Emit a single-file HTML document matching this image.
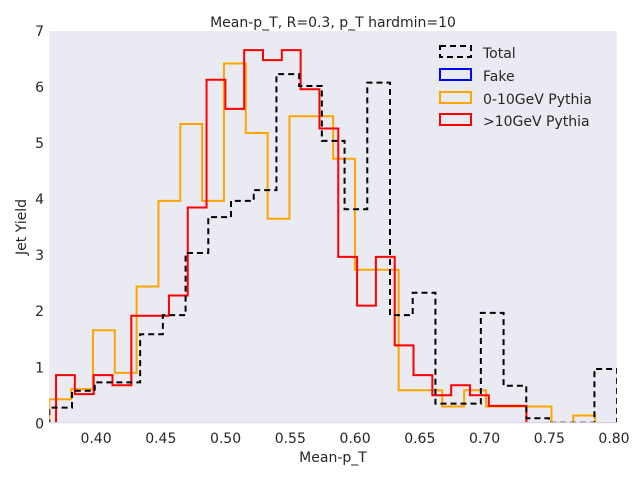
<!DOCTYPE html>
<html><head><meta charset="utf-8"><style>
body{margin:0;background:#fff;}
svg text{font-family:"DejaVu Sans","Liberation Sans",sans-serif;fill:#262626;}
</style></head><body>
<svg id="chart" width="640" height="480" viewBox="0 0 640 480">
<defs><clipPath id="clip"><rect x="49.3" y="31" width="567.7" height="391.1"/></clipPath></defs>
<rect x="49.3" y="31" width="567.7" height="392.3" fill="#eaeaf2"/>
<text x="333" y="27" font-size="14" text-anchor="middle">Mean-p_T, R=0.3, p_T hardmin=10</text>
<g id="xticks"></g><g id="yticks"></g>
<text x="333" y="462" font-size="14" text-anchor="middle">Mean-p_T</text>
<text x="26" y="227" font-size="14" text-anchor="middle" transform="rotate(-90 26 227)">Jet Yield</text>
<g id="series" clip-path="url(#clip)"></g>
<g>
<g><rect x="440" y="46" width="31" height="11" fill="none" stroke="#000" stroke-width="2" stroke-dasharray="6,4"/><text x="483" y="58" font-size="14">Total</text></g>
<g><rect x="440" y="69" width="31" height="11" fill="none" stroke="#0000ff" stroke-width="2"/><text x="483" y="81" font-size="14">Fake</text></g>
<g><rect x="440" y="92" width="31" height="11" fill="none" stroke="#ffa500" stroke-width="2"/><text x="483" y="104" font-size="14">0-10GeV Pythia</text></g>
<g><rect x="440" y="114" width="31" height="11" fill="none" stroke="#ff0000" stroke-width="2"/><text x="483" y="126" font-size="14">&gt;10GeV Pythia</text></g>
</g>
</svg>
<script>
const xTicks = [0.40,0.45,0.50,0.55,0.60,0.65,0.70,0.75,0.80];
const yTicks = [0,1,2,3,4,5,6,7];
const totalStart = 0.3639, totalWidth = 0.01754;
const totalValues = [0.28,0.58,0.73,0.73,1.59,1.93,3.04,3.68,3.97,4.16,6.23,6.02,5.04,3.82,6.08,1.93,2.33,0.35,0.35,1.97,0.67,0.09,0.01,0.01,0.97];
const fakeStart = 0.3639, fakeWidth = 0.01754;
const fakeValues = [0,0,0,0,0,0,0,0,0,0,0,0,0,0,0,0,0,0,0,0,0,0,0,0,0];
const lowStart = 0.3639, lowWidth = 0.01686;
const lowValues = [0.43,0.61,1.66,0.90,2.44,3.97,5.34,3.97,6.42,5.18,3.65,5.48,5.48,4.72,2.74,2.74,0.59,0.59,0.30,0.59,0.30,0.30,0.30,0,0.14,0];
const highStart = 0.3691, highWidth = 0.01453;
const highValues = [0.86,0.52,0.86,0.68,1.92,1.92,2.28,3.85,6.13,5.61,6.66,6.48,6.66,5.96,5.26,2.97,2.10,2.97,1.39,0.86,0.50,0.68,0.50,0.31,0.31,0,0,0,0,0];

const X0=0.3639,X1=0.8023,PX0=49.3,PX1=617,Y0=423.3,YU=56.04;
const sx=v=>PX0+(v-X0)/(X1-X0)*(PX1-PX0);
const sy=v=>Y0-v*YU;
const NS="http://www.w3.org/2000/svg";
const xt=document.getElementById('xticks');
xTicks.forEach(t=>{const e=document.createElementNS(NS,'text');
e.setAttribute('x',sx(t));e.setAttribute('y',443);e.setAttribute('font-size','14');e.setAttribute('text-anchor','middle');
e.textContent=t.toFixed(2);


xt.appendChild(e);});
const yt=document.getElementById('yticks');
yTicks.forEach(t=>{const e=document.createElementNS(NS,'text');
e.setAttribute('x',44);e.setAttribute('y',sy(t)+5);e.setAttribute('font-size','14');e.setAttribute('text-anchor','end');
e.textContent=t;


yt.appendChild(e);});
const g=document.getElementById('series');
function step(start,width,vals,color,dash,name){
  let d='M'+sx(start)+','+(sy(0)+2);
  vals.forEach((v,i)=>{d+=' L'+sx(start+i*width)+','+sy(v)+' L'+sx(start+(i+1)*width)+','+sy(v);});
  d+=' L'+sx(start+vals.length*width)+','+(sy(0)+2);
  const p=document.createElementNS(NS,'path');
  p.setAttribute('d',d);p.setAttribute('fill','none');p.setAttribute('stroke',color);p.setAttribute('stroke-width','2');
  if(dash)p.setAttribute('stroke-dasharray',dash);
  
  
  g.appendChild(p);
}
step(fakeStart,fakeWidth,fakeValues,'#0000ff',null,'fake-series');
step(lowStart,lowWidth,lowValues,'#ffa500',null,'low-pythia-series');
step(highStart,highWidth,highValues,'#ff0000',null,'high-pythia-series');
step(totalStart,totalWidth,totalValues,'#000000','6,4','total-series');
</script>
</body></html>
